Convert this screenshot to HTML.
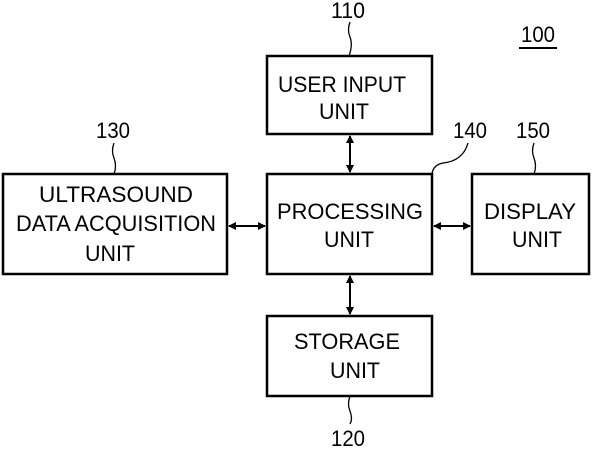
<!DOCTYPE html>
<html><head><style>html,body{margin:0;padding:0;background:#fff}svg{display:block}</style></head><body>
<svg width="601" height="449" viewBox="0 0 601 449" xmlns="http://www.w3.org/2000/svg" font-family="Liberation Sans, sans-serif" font-size="22" fill="#000">
<defs><marker id="a" markerWidth="8" markerHeight="8" refX="7" refY="4" orient="auto-start-reverse" markerUnits="userSpaceOnUse"><path d="M0,0 L8,4 L0,8 z"/></marker></defs>
<g fill="none" stroke="#000" stroke-width="2.5">
<rect x="267" y="56" width="165" height="78"/>
<rect x="267" y="174" width="165" height="100"/>
<rect x="3" y="174" width="224" height="100"/>
<rect x="472" y="174" width="117" height="100"/>
<rect x="267" y="316" width="165" height="80"/>
</g>
<g stroke="#000" stroke-width="2">
<line x1="350" y1="136" x2="350" y2="172" marker-start="url(#a)" marker-end="url(#a)"/>
<line x1="350" y1="276" x2="350" y2="314" marker-start="url(#a)" marker-end="url(#a)"/>
<line x1="229" y1="226" x2="265" y2="226" marker-start="url(#a)" marker-end="url(#a)"/>
<line x1="434" y1="226" x2="470" y2="226" marker-start="url(#a)" marker-end="url(#a)"/>
</g>
<g fill="none" stroke="#000" stroke-width="1.3">
<path d="M350,22 q-3,8 0,15 q3,8 -1,19"/>
<path d="M114,143 q-3,8 0,15 q3,8 0,16"/>
<path d="M468,143 q-5,18 -25,20 q-10,2 -11,11"/>
<path d="M534,143 q-3,8 0,15 q3,8 0,16"/>
<path d="M350,396 q-3,8 0,15 q3,8 0,13"/>
<line x1="519" y1="48" x2="557" y2="48" stroke-width="2"/>
</g>
<g text-anchor="middle">
<text x="348" y="18" textLength="34" lengthAdjust="spacingAndGlyphs">110</text>
<text x="538" y="42" textLength="34" lengthAdjust="spacingAndGlyphs">100</text>
<text x="113" y="138" textLength="34" lengthAdjust="spacingAndGlyphs">130</text>
<text x="470" y="138" textLength="34" lengthAdjust="spacingAndGlyphs">140</text>
<text x="533" y="138" textLength="34" lengthAdjust="spacingAndGlyphs">150</text>
<text x="348" y="446" textLength="34" lengthAdjust="spacingAndGlyphs">120</text>
<text x="342" y="92" textLength="128" lengthAdjust="spacingAndGlyphs">USER INPUT</text>
<text x="344" y="119" textLength="50" lengthAdjust="spacingAndGlyphs">UNIT</text>
<text x="350" y="219" textLength="146" lengthAdjust="spacingAndGlyphs">PROCESSING</text>
<text x="349" y="247" textLength="50" lengthAdjust="spacingAndGlyphs">UNIT</text>
<text x="116" y="202" textLength="154" lengthAdjust="spacingAndGlyphs">ULTRASOUND</text>
<text x="116" y="231" textLength="200" lengthAdjust="spacingAndGlyphs">DATA ACQUISITION</text>
<text x="110" y="261" textLength="50" lengthAdjust="spacingAndGlyphs">UNIT</text>
<text x="530" y="219" textLength="92" lengthAdjust="spacingAndGlyphs">DISPLAY</text>
<text x="537" y="247" textLength="50" lengthAdjust="spacingAndGlyphs">UNIT</text>
<text x="347" y="349" textLength="106" lengthAdjust="spacingAndGlyphs">STORAGE</text>
<text x="355" y="378" textLength="50" lengthAdjust="spacingAndGlyphs">UNIT</text>
</g>
</svg>
</body></html>
